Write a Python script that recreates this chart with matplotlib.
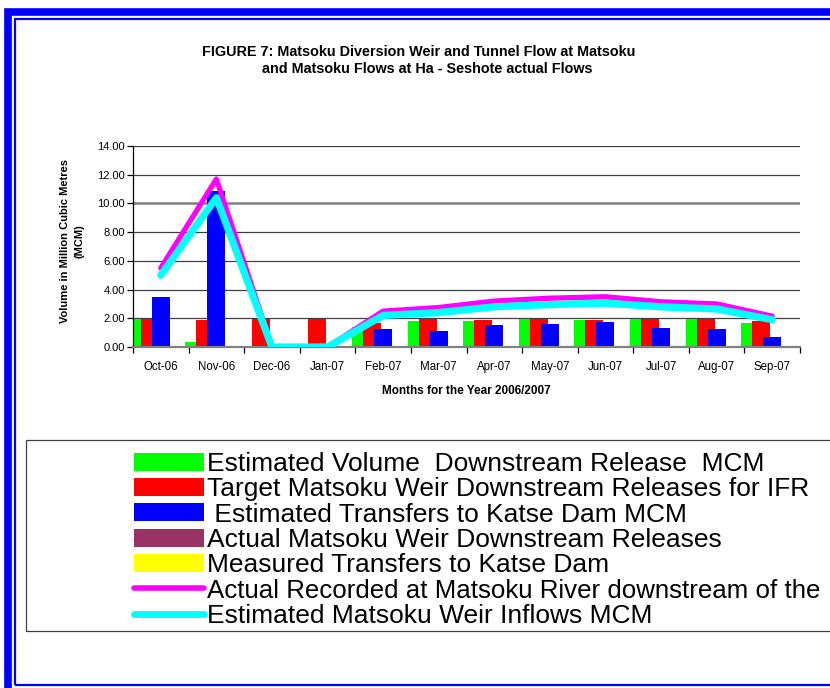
import numpy as np
import matplotlib.pyplot as plt
from matplotlib.patches import Rectangle, Patch
from matplotlib.lines import Line2D

# monthly values (MCM)
months = ['Oct-06', 'Nov-06', 'Dec-06', 'Jan-07', 'Feb-07', 'Mar-07',
          'Apr-07', 'May-07', 'Jun-07', 'Jul-07', 'Aug-07', 'Sep-07']
est_release = [1.93, 0.35, 0, 0, 1.40, 1.81, 1.83, 1.93, 1.88, 1.93, 1.93, 1.69]
target_release = [1.93, 1.85, 1.93, 1.93, 1.70, 1.93, 1.86, 1.93, 1.88, 1.93, 1.93, 1.81]
est_transfer = [3.45, 10.9, 0, 0, 1.25, 1.14, 1.53, 1.60, 1.74, 1.35, 1.23, 0.70]
actual_release = [np.nan] * 12
measured_transfer = [np.nan] * 12
actual_recorded = [5.5, 11.7, 0, 0, 2.5, 2.75, 3.2, 3.4, 3.5, 3.15, 3.0, 2.15]
est_inflow = [5.0, 10.4, 0, 0, 2.2, 2.4, 2.8, 2.95, 3.05, 2.8, 2.65, 1.9]

# the picture cuts the two long labels at its right edge
labels = ['Estimated Volume  Downstream Release  MCM',
          'Target Matsoku Weir Downstream Releases for IFR',
          ' Estimated Transfers to Katse Dam MCM',
          'Actual Matsoku Weir Downstream Releases',
          'Measured Transfers to Katse Dam',
          'Actual Recorded at Matsoku River downstream of the',
          'Estimated Matsoku Weir Inflows MCM']
bar_colors = ['#00FF00', '#FF0000', '#0000FF', '#993366', '#FFFF00']

plt.rcParams['font.family'] = ['Liberation Sans', 'DejaVu Sans']

W, H = 830, 688
fig = plt.figure(figsize=(W / 100, H / 100), dpi=100)

def fx(px):
    return px / W

def fy(py):
    return 1 - py / H

# blue double frame
fig.patches.append(Rectangle((fx(8), fy(700)), fx(900), (700 - 12) / H, transform=fig.transFigure,
                             fill=False, edgecolor='#0000FF', linewidth=5.5))
fig.patches.append(Rectangle((fx(14.5), fy(685)), fx(900), (685 - 18.5) / H, transform=fig.transFigure,
                             fill=False, edgecolor='#0000FF', linewidth=1.6))

ax = fig.add_axes([fx(133), fy(347), fx(800 - 133), (347 - 146) / H])
x = np.arange(len(months))
w, step = 0.324, 0.198
series = [est_release, target_release, est_transfer, actual_release, measured_transfer]
for i, (vals, c) in enumerate(zip(series, bar_colors)):
    ax.bar(x + (i - 2) * step, vals, width=w, color=c, linewidth=0, zorder=2)

ax.plot(x, actual_recorded, color='#FF00FF', linewidth=3.8, solid_capstyle='round',
        solid_joinstyle='round', zorder=3)
ax.plot(x, est_inflow, color='#00FFFF', linewidth=5.2, solid_capstyle='round',
        solid_joinstyle='round', zorder=4)

ax.set_xlim(-0.5, 11.5)
ax.set_ylim(0, 14)
ax.set_yticks(np.arange(0, 15, 2))
ax.set_yticklabels(['%.2f' % v for v in np.arange(0, 15, 2)], fontsize=8)
for v in range(2, 15, 2):
    if v == 10:
        ax.axhline(v, color='#808080', linewidth=1.8, zorder=1)
    else:
        ax.axhline(v, color='#404040', linewidth=0.9, zorder=1)

ax.set_xticks(x)
ax.set_xticklabels(months, fontsize=8.3)
ax.set_xticks(np.arange(-0.5, 12, 1), minor=True)
ax.tick_params(axis='x', which='major', length=0, pad=10)
ax.tick_params(axis='x', which='minor', length=4, width=0.9, color='black')
ax.tick_params(axis='y', length=4, width=0.9, pad=2)
for s in ['top', 'right']:
    ax.spines[s].set_visible(False)
ax.spines['bottom'].set_color('#808080')
ax.spines['bottom'].set_linewidth(1.6)
ax.spines['left'].set_linewidth(0.9)

ax.set_xlabel('Months for the Year 2006/2007', fontsize=8.5, fontweight='bold', labelpad=9)
ax.set_ylabel('Volume in Million Cubic Metres\n(MCM)', fontsize=8, fontweight='bold',
              labelpad=9, linespacing=1.55)
ax.yaxis.label.set_y(0.527)

fig.text(fx(419), fy(52), 'FIGURE 7: Matsoku Diversion Weir and Tunnel Flow at Matsoku',
         ha='center', va='center', fontsize=10.4, fontweight='bold')
fig.text(fx(427), fy(69), 'and Matsoku Flows at Ha - Seshote actual Flows',
         ha='center', va='center', fontsize=10.4, fontweight='bold')

# legend box runs past the right edge
fig.patches.append(Rectangle((fx(26), fy(631)), fx(900), (631 - 440) / H, transform=fig.transFigure,
                             fill=False, edgecolor='#404040', linewidth=0.9))
handles = [Patch(facecolor=c, edgecolor='none') for c in bar_colors]
handles += [Line2D([], [], color='#FF00FF', linewidth=4, solid_capstyle='round'),
            Line2D([], [], color='#00FFFF', linewidth=5, solid_capstyle='round')]
leg = fig.legend(handles, labels, loc='upper left', bbox_to_anchor=(fx(134), fy(452)),
                 frameon=False, fontsize=19, handlelength=2.65, handleheight=0.68,
                 handletextpad=0.11, labelspacing=0.05, borderpad=0, borderaxespad=0)
leg.get_texts()[5].set_fontsize(18.6)

fig.savefig('out.png', dpi=100)
